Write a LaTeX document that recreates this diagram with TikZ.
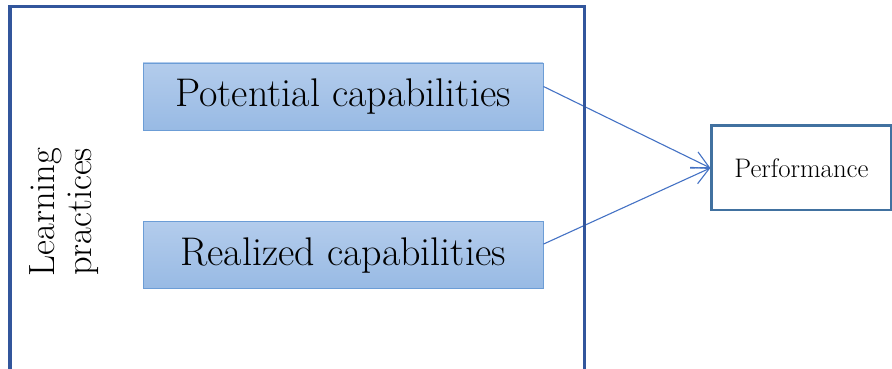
\documentclass[tikz,border=0pt]{standalone}
\usetikzlibrary{arrows.meta,positioning}

\definecolor{frameblue}{RGB}{50,86,156}
\definecolor{captop}{RGB}{179,204,236}
\definecolor{capbot}{RGB}{152,186,228}
\definecolor{capedge}{RGB}{108,157,214}
\definecolor{perfedge}{RGB}{65,113,160}
\definecolor{arrowblue}{RGB}{68,114,196}

\begin{document}
\begin{tikzpicture}[
    x=1pt, y=1pt,
    capbox/.style={draw=capedge, line width=0.9pt, top color=captop, bottom color=capbot, minimum width=400pt, minimum height=67pt, inner sep=0pt, font=\fontsize{40}{44}\selectfont},
    perfbox/.style={draw=perfedge, line width=2.7pt, fill=white, minimum width=179.3pt, minimum height=84.3pt, inner sep=0pt, font=\fontsize{26.8}{30}\selectfont},
    link/.style={-{Straight Barb[length=17pt, width=18pt]}, draw=arrowblue, line width=1.1pt}
]
\clip (0,0) rectangle (892,369);
\node[capbox] (pot) at (343,272.5) {Potential capabilities};
\node[capbox, below=90.7pt of pot] (real) {Realized capabilities};
\node[perfbox] (perf) at (801.4,201) {Performance};
\node[rotate=90, align=center, inner sep=0pt, font=\fontsize{36.5}{37}\selectfont] (learn) at (64,157) {Learning\\practices};
\draw[link] ([yshift=10pt]pot.east) -- (perf.west);
\draw[link] ([yshift=11pt]real.east) -- (perf.west);
% outer frame, open at the bottom
\draw[frameblue, line width=3.2pt] (10,-10) |- (584.5,362.5) -- (584.5,-10);
\end{tikzpicture}
\end{document}
